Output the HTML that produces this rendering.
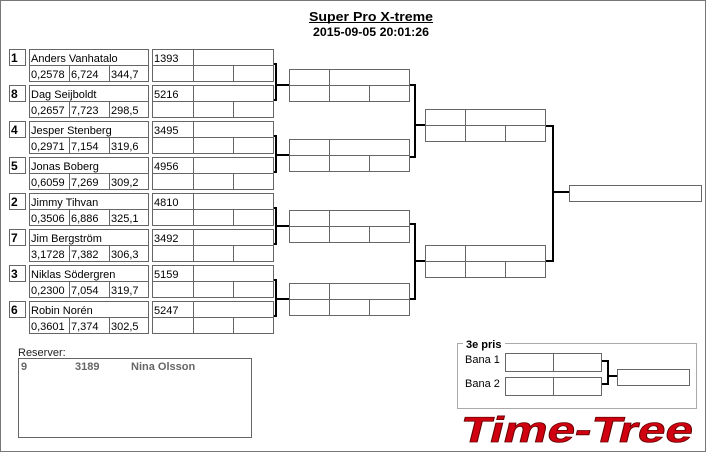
<!DOCTYPE html>
<html><head><meta charset="utf-8"><style>
html,body{margin:0;padding:0;background:#fff}
svg{display:block}
text{font-family:"Liberation Sans",sans-serif;font-size:11px;fill:#000}
.b{fill:none;stroke:#666;stroke-width:1}
.k{fill:none;stroke:#000;stroke-width:2}
.s{font-weight:bold;font-size:12px}
</style></head><body>
<svg width="706" height="452" viewBox="0 0 706 452" shape-rendering="crispEdges">
<rect x="0.5" y="0.5" width="705" height="451" fill="#fff" stroke="#777"/>
<text x="371" y="21" text-anchor="middle" textLength="124" lengthAdjust="spacingAndGlyphs" style="font-weight:bold;font-size:13px">Super Pro X-treme</text>
<line x1="309" y1="22.5" x2="433" y2="22.5" stroke="#000"/>
<text x="371" y="36" text-anchor="middle" textLength="116" lengthAdjust="spacingAndGlyphs" style="font-weight:bold;font-size:12px">2015-09-05 20:01:26</text>

<g transform="translate(0,49)">
<rect class="b" x="9.5" y="0.5" width="16" height="16" stroke="#333"/><text class="s" x="11" y="13">1</text>
<rect class="b" x="29.5" y="0.5" width="119" height="16"/><rect class="b" x="29.5" y="16.5" width="40" height="16"/><rect class="b" x="69.5" y="16.5" width="40" height="16"/><rect class="b" x="109.5" y="16.5" width="39" height="16"/>
<rect class="b" x="152.5" y="0.5" width="41" height="16"/><rect class="b" x="193.5" y="0.5" width="80" height="16"/><rect class="b" x="152.5" y="16.5" width="41" height="16"/><rect class="b" x="193.5" y="16.5" width="40" height="16"/><rect class="b" x="233.5" y="16.5" width="40" height="16"/>
<text x="31" y="13">Anders Vanhatalo</text><text x="31" y="29">0,2578</text><text x="71" y="29">6,724</text><text x="111" y="29">344,7</text><text x="154" y="13">1393</text>
</g>
<g transform="translate(0,85)">
<rect class="b" x="9.5" y="0.5" width="16" height="16" stroke="#333"/><text class="s" x="11" y="13">8</text>
<rect class="b" x="29.5" y="0.5" width="119" height="16"/><rect class="b" x="29.5" y="16.5" width="40" height="16"/><rect class="b" x="69.5" y="16.5" width="40" height="16"/><rect class="b" x="109.5" y="16.5" width="39" height="16"/>
<rect class="b" x="152.5" y="0.5" width="41" height="16"/><rect class="b" x="193.5" y="0.5" width="80" height="16"/><rect class="b" x="152.5" y="16.5" width="41" height="16"/><rect class="b" x="193.5" y="16.5" width="40" height="16"/><rect class="b" x="233.5" y="16.5" width="40" height="16"/>
<text x="31" y="13">Dag Seijboldt</text><text x="31" y="29">0,2657</text><text x="71" y="29">7,723</text><text x="111" y="29">298,5</text><text x="154" y="13">5216</text>
</g>
<g transform="translate(0,121)">
<rect class="b" x="9.5" y="0.5" width="16" height="16" stroke="#333"/><text class="s" x="11" y="13">4</text>
<rect class="b" x="29.5" y="0.5" width="119" height="16"/><rect class="b" x="29.5" y="16.5" width="40" height="16"/><rect class="b" x="69.5" y="16.5" width="40" height="16"/><rect class="b" x="109.5" y="16.5" width="39" height="16"/>
<rect class="b" x="152.5" y="0.5" width="41" height="16"/><rect class="b" x="193.5" y="0.5" width="80" height="16"/><rect class="b" x="152.5" y="16.5" width="41" height="16"/><rect class="b" x="193.5" y="16.5" width="40" height="16"/><rect class="b" x="233.5" y="16.5" width="40" height="16"/>
<text x="31" y="13">Jesper Stenberg</text><text x="31" y="29">0,2971</text><text x="71" y="29">7,154</text><text x="111" y="29">319,6</text><text x="154" y="13">3495</text>
</g>
<g transform="translate(0,157)">
<rect class="b" x="9.5" y="0.5" width="16" height="16" stroke="#333"/><text class="s" x="11" y="13">5</text>
<rect class="b" x="29.5" y="0.5" width="119" height="16"/><rect class="b" x="29.5" y="16.5" width="40" height="16"/><rect class="b" x="69.5" y="16.5" width="40" height="16"/><rect class="b" x="109.5" y="16.5" width="39" height="16"/>
<rect class="b" x="152.5" y="0.5" width="41" height="16"/><rect class="b" x="193.5" y="0.5" width="80" height="16"/><rect class="b" x="152.5" y="16.5" width="41" height="16"/><rect class="b" x="193.5" y="16.5" width="40" height="16"/><rect class="b" x="233.5" y="16.5" width="40" height="16"/>
<text x="31" y="13">Jonas Boberg</text><text x="31" y="29">0,6059</text><text x="71" y="29">7,269</text><text x="111" y="29">309,2</text><text x="154" y="13">4956</text>
</g>
<g transform="translate(0,193)">
<rect class="b" x="9.5" y="0.5" width="16" height="16" stroke="#333"/><text class="s" x="11" y="13">2</text>
<rect class="b" x="29.5" y="0.5" width="119" height="16"/><rect class="b" x="29.5" y="16.5" width="40" height="16"/><rect class="b" x="69.5" y="16.5" width="40" height="16"/><rect class="b" x="109.5" y="16.5" width="39" height="16"/>
<rect class="b" x="152.5" y="0.5" width="41" height="16"/><rect class="b" x="193.5" y="0.5" width="80" height="16"/><rect class="b" x="152.5" y="16.5" width="41" height="16"/><rect class="b" x="193.5" y="16.5" width="40" height="16"/><rect class="b" x="233.5" y="16.5" width="40" height="16"/>
<text x="31" y="13">Jimmy Tihvan</text><text x="31" y="29">0,3506</text><text x="71" y="29">6,886</text><text x="111" y="29">325,1</text><text x="154" y="13">4810</text>
</g>
<g transform="translate(0,229)">
<rect class="b" x="9.5" y="0.5" width="16" height="16" stroke="#333"/><text class="s" x="11" y="13">7</text>
<rect class="b" x="29.5" y="0.5" width="119" height="16"/><rect class="b" x="29.5" y="16.5" width="40" height="16"/><rect class="b" x="69.5" y="16.5" width="40" height="16"/><rect class="b" x="109.5" y="16.5" width="39" height="16"/>
<rect class="b" x="152.5" y="0.5" width="41" height="16"/><rect class="b" x="193.5" y="0.5" width="80" height="16"/><rect class="b" x="152.5" y="16.5" width="41" height="16"/><rect class="b" x="193.5" y="16.5" width="40" height="16"/><rect class="b" x="233.5" y="16.5" width="40" height="16"/>
<text x="31" y="13">Jim Bergström</text><text x="31" y="29">3,1728</text><text x="71" y="29">7,382</text><text x="111" y="29">306,3</text><text x="154" y="13">3492</text>
</g>
<g transform="translate(0,265)">
<rect class="b" x="9.5" y="0.5" width="16" height="16" stroke="#333"/><text class="s" x="11" y="13">3</text>
<rect class="b" x="29.5" y="0.5" width="119" height="16"/><rect class="b" x="29.5" y="16.5" width="40" height="16"/><rect class="b" x="69.5" y="16.5" width="40" height="16"/><rect class="b" x="109.5" y="16.5" width="39" height="16"/>
<rect class="b" x="152.5" y="0.5" width="41" height="16"/><rect class="b" x="193.5" y="0.5" width="80" height="16"/><rect class="b" x="152.5" y="16.5" width="41" height="16"/><rect class="b" x="193.5" y="16.5" width="40" height="16"/><rect class="b" x="233.5" y="16.5" width="40" height="16"/>
<text x="31" y="13">Niklas Södergren</text><text x="31" y="29">0,2300</text><text x="71" y="29">7,054</text><text x="111" y="29">319,7</text><text x="154" y="13">5159</text>
</g>
<g transform="translate(0,301)">
<rect class="b" x="9.5" y="0.5" width="16" height="16" stroke="#333"/><text class="s" x="11" y="13">6</text>
<rect class="b" x="29.5" y="0.5" width="119" height="16"/><rect class="b" x="29.5" y="16.5" width="40" height="16"/><rect class="b" x="69.5" y="16.5" width="40" height="16"/><rect class="b" x="109.5" y="16.5" width="39" height="16"/>
<rect class="b" x="152.5" y="0.5" width="41" height="16"/><rect class="b" x="193.5" y="0.5" width="80" height="16"/><rect class="b" x="152.5" y="16.5" width="41" height="16"/><rect class="b" x="193.5" y="16.5" width="40" height="16"/><rect class="b" x="233.5" y="16.5" width="40" height="16"/>
<text x="31" y="13">Robin Norén</text><text x="31" y="29">0,3601</text><text x="71" y="29">7,374</text><text x="111" y="29">302,5</text><text x="154" y="13">5247</text>
</g>

<path class="k" d="M274 64H276V100H274M276 85H289"/>
<path class="k" d="M274 136H276V172H274M276 155H289"/>
<path class="k" d="M274 208H276V244H274M276 226H289"/>
<path class="k" d="M274 280H276V316H274M276 299H289"/>

<g transform="translate(289,69)"><rect class="b" x="0.5" y="0.5" width="40" height="16"/><rect class="b" x="40.5" y="0.5" width="80" height="16"/><rect class="b" x="0.5" y="16.5" width="40" height="16"/><rect class="b" x="40.5" y="16.5" width="40" height="16"/><rect class="b" x="80.5" y="16.5" width="40" height="16"/></g>
<g transform="translate(289,139)"><rect class="b" x="0.5" y="0.5" width="40" height="16"/><rect class="b" x="40.5" y="0.5" width="80" height="16"/><rect class="b" x="0.5" y="16.5" width="40" height="16"/><rect class="b" x="40.5" y="16.5" width="40" height="16"/><rect class="b" x="80.5" y="16.5" width="40" height="16"/></g>
<g transform="translate(289,210)"><rect class="b" x="0.5" y="0.5" width="40" height="16"/><rect class="b" x="40.5" y="0.5" width="80" height="16"/><rect class="b" x="0.5" y="16.5" width="40" height="16"/><rect class="b" x="40.5" y="16.5" width="40" height="16"/><rect class="b" x="80.5" y="16.5" width="40" height="16"/></g>
<g transform="translate(289,283)"><rect class="b" x="0.5" y="0.5" width="40" height="16"/><rect class="b" x="40.5" y="0.5" width="80" height="16"/><rect class="b" x="0.5" y="16.5" width="40" height="16"/><rect class="b" x="40.5" y="16.5" width="40" height="16"/><rect class="b" x="80.5" y="16.5" width="40" height="16"/></g>

<path class="k" d="M410 85H415V157H410M415 125H425"/>
<path class="k" d="M410 224H415V299H410M415 261H425"/>

<g transform="translate(425,109)"><rect class="b" x="0.5" y="0.5" width="40" height="16"/><rect class="b" x="40.5" y="0.5" width="80" height="16"/><rect class="b" x="0.5" y="16.5" width="40" height="16"/><rect class="b" x="40.5" y="16.5" width="40" height="16"/><rect class="b" x="80.5" y="16.5" width="40" height="16"/></g>
<g transform="translate(425,245)"><rect class="b" x="0.5" y="0.5" width="40" height="16"/><rect class="b" x="40.5" y="0.5" width="80" height="16"/><rect class="b" x="0.5" y="16.5" width="40" height="16"/><rect class="b" x="40.5" y="16.5" width="40" height="16"/><rect class="b" x="80.5" y="16.5" width="40" height="16"/></g>
<path class="k" d="M546 126H553V261H546M553 192H569"/>
<rect class="b" x="569.5" y="185.5" width="132" height="16"/>

<text x="18" y="356" style="fill:#222">Reserver:</text>
<rect class="b" x="18.5" y="358.5" width="233" height="79"/>
<text x="21" y="370" style="font-weight:bold;fill:#666">9</text>
<text x="75" y="370" style="font-weight:bold;fill:#666">3189</text>
<text x="131" y="370" style="font-weight:bold;fill:#666">Nina Olsson</text>

<rect x="457.5" y="343.5" width="239" height="65" fill="none" stroke="#aaa"/>
<rect x="463" y="337" width="42" height="12" fill="#fff"/>
<text x="466" y="348" style="font-weight:bold">3e pris</text>
<text x="465" y="363">Bana 1</text>
<text x="465" y="387">Bana 2</text>
<rect class="b" x="505.5" y="353.5" width="48" height="18"/><rect class="b" x="553.5" y="353.5" width="48" height="18"/>
<rect class="b" x="505.5" y="377.5" width="48" height="18"/><rect class="b" x="553.5" y="377.5" width="48" height="18"/>
<path class="k" d="M602 361H608V384H602M608 376H617"/>
<rect class="b" x="617.5" y="369.5" width="72" height="16"/>

<text x="575" y="442" text-anchor="middle" textLength="232" lengthAdjust="spacingAndGlyphs" transform="matrix(1,0,-0.25,1,110,0)" style="font-size:36px;font-weight:bold;fill:#d00010;stroke:#600;stroke-width:0.8">Time-Tree</text>
</svg>
</body></html>
